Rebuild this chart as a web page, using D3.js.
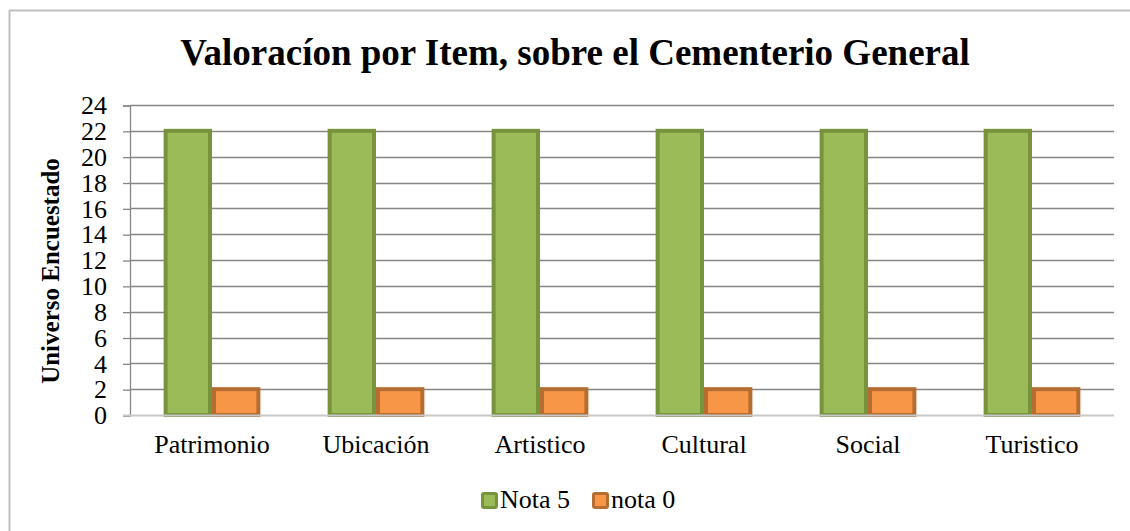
<!DOCTYPE html>
<html>
<head>
<meta charset="utf-8">
<script src="https://cdn.jsdelivr.net/npm/d3@7"></script>
<style>
html,body{margin:0;padding:0;background:#fff;}
svg{display:block;}
text{font-family:"Liberation Serif","Times New Roman",serif;fill:#000;}
</style>
</head>
<body>
<svg id="chart" width="1130" height="531"></svg>
<script>
const categories = ["Patrimonio","Ubicación","Artistico","Cultural","Social","Turistico"];
const seriesNames = ["Nota 5","nota 0"];
const nota5 = [22,22,22,22,22,22];
const nota0 = [2,2,2,2,2,2];
const yTicks = [0,2,4,6,8,10,12,14,16,18,20,22,24];
const title = "Valoracíon por Item, sobre el Cementerio General";
const yTitle = "Universo Encuestado";
const fills = ["#9BBB59","#F79646"];
const strokes = ["#77933C","#B66D31"];

(function(){
const svg = d3.select("#chart");
// outer frame (left and top visible)
svg.append("line").attr("x1",9.5).attr("x2",9.5).attr("y1",10).attr("y2",531).attr("stroke","#bfbfbf").attr("stroke-width",2);
svg.append("line").attr("x1",9).attr("x2",1130).attr("y1",10.5).attr("y2",10.5).attr("stroke","#bfbfbf").attr("stroke-width",2);

const pLeft = 130, pRight = 1114, pTop = 105, pBottom = 415;
const y = d3.scaleLinear().domain([0,24]).range([pBottom, pTop]);
const x0 = d3.scaleBand().domain(categories).range([pLeft,pRight]).paddingInner(0.41).paddingOuter(0.205);
const x1 = d3.scaleBand().domain(seriesNames).range([0,x0.bandwidth()]);

// gridlines
svg.append("g").selectAll("line").data(yTicks.filter(d=>d>0)).join("line")
  .attr("x1",pLeft).attr("x2",pRight)
  .attr("y1",d=>Math.round(y(d))+0.5).attr("y2",d=>Math.round(y(d))+0.5)
  .attr("stroke","#868686").attr("stroke-width",1.3);

// y axis
const yAxis = d3.axisLeft(y).tickValues(yTicks).tickSize(7).tickPadding(16);
const gy = svg.append("g").attr("transform",`translate(${pLeft},0.5)`).call(yAxis);
gy.attr("font-family",null).attr("font-size",null);
gy.select(".domain").attr("stroke","#868686").attr("stroke-width",1.3);
gy.selectAll(".tick line").attr("stroke","#868686").attr("stroke-width",1.3);
gy.selectAll(".tick text").attr("font-size","26px").attr("fill","#000");

// bars
const data = categories.map((c,i)=>({c, vals:[nota5[i],nota0[i]]}));
const groups = svg.append("g").selectAll("g").data(data).join("g")
  .attr("transform",d=>`translate(${x0(d.c)},0)`);
groups.selectAll("rect").data(d=>d.vals.map((v,j)=>({v,j}))).join("rect")
  .attr("x",d=>x1(seriesNames[d.j])+2)
  .attr("width",x1.bandwidth()-4)
  .attr("y",d=>y(d.v))
  .attr("height",d=>pBottom-y(d.v))
  .attr("fill",d=>fills[d.j])
  .attr("stroke",d=>strokes[d.j])
  .attr("stroke-width",4);

// x axis
const xAxis = d3.axisBottom(x0).tickSize(0).tickPadding(19.5);
const gx = svg.append("g").attr("transform",`translate(0,${pBottom+0.5})`).call(xAxis);
gx.attr("font-family",null).attr("font-size",null);
gx.select(".domain").attr("stroke","#c8c8c8").attr("stroke-width",2).attr("d",`M${pLeft-7},0H${pRight}`);
gx.selectAll(".tick text").attr("font-size","26px").attr("fill","#000");

// title
svg.append("text").attr("x",575).attr("y",65).attr("text-anchor","middle")
  .attr("font-size","37px").attr("font-weight","bold").text(title);

// y title
svg.append("text").attr("transform","translate(59,271) rotate(-90)").attr("text-anchor","middle")
  .attr("font-size","25px").attr("font-weight","bold").text(yTitle);

// legend
const legX = [481,592];
const leg = svg.append("g");
seriesNames.forEach((s,i)=>{
  leg.append("rect").attr("x",legX[i]+1.5).attr("y",493.5).attr("width",14).attr("height",14)
    .attr("fill",fills[i]).attr("stroke",strokes[i]).attr("stroke-width",3).attr("rx",1.5);
  leg.append("text").attr("x",legX[i]+19).attr("y",508).attr("font-size","26px").text(s);
});
})();
</script>
</body>
</html>
